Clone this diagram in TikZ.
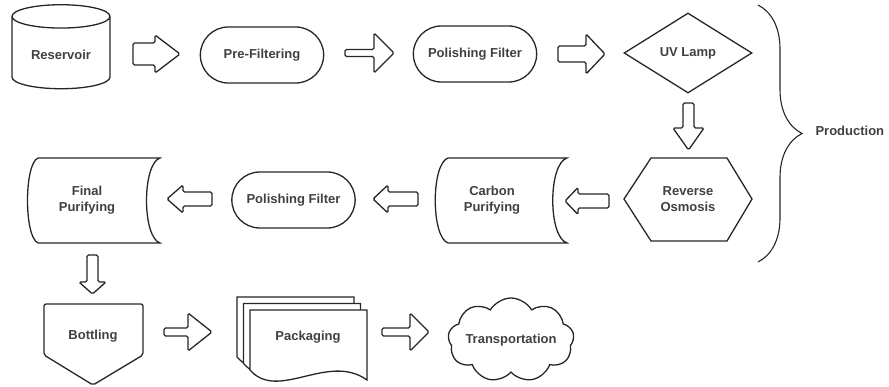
\documentclass[tikz,border=0pt]{standalone}
\usepackage{fontspec}
\setmainfont{Liberation Sans}
\usepackage{tikz}
\usetikzlibrary{shapes.geometric, shapes.misc, shapes.symbols, positioning, calc, decorations.pathreplacing}
\tikzset{
    every node/.style={font=\fontsize{13}{15.5}\selectfont\bfseries, text=black!75}, % label font
    outline/.style={draw=black!85, line width=1.3pt}, % stroke used for every shape
    tank/.style={cylinder, shape border rotate=90, aspect=0.35, outline, minimum width=98pt, minimum height=84pt},
    pill/.style={rounded rectangle, outline, minimum width=130pt, minimum height=56pt}, % filter boxes
    decision/.style={diamond, outline, aspect=1.64, inner sep=0pt, minimum width=128pt, minimum height=80pt},
    tag/.style={align=center, inner sep=0pt}, % text only, outline is drawn round it afterwards
    puffs/.style={cloud, outline, cloud puffs=9, cloud puff arc=120, inner sep=0pt, minimum width=126pt, minimum height=84pt},
    pics/blockarrow/.style n args={4}{code={ % length, shaft, head, head length
        \draw[outline, rounded corners=1.5pt] (-#1/2,-#2/2) -- (#1/2-#4,-#2/2) -- (#1/2-#4,-#3/2) -- (#1/2,0) -- (#1/2-#4,#3/2) -- (#1/2-#4,#2/2) -- (-#1/2,#2/2) -- cycle;
    }},
    }

\begin{document}
\begin{tikzpicture}[x=1pt, y=-1pt]
    \useasboundingbox (0,0) rectangle (889,387);

    % first row
    \node[tank] (res) at (61,55) {Reservoir};
    \node[pill] (pre) at (262,55) {Pre-Filtering};
    \node[pill] (pol1) at (475,54) {Polishing Filter};
    \node[decision] (uv) at (688,53) {UV Lamp};

    % second row, right to left
    \node[tag] (ro) at (688,199) {Reverse\\Osmosis};
    \draw[outline] ($(ro)+(-64,0)$) -- ($(ro)+(-37,-41)$) -- ($(ro)+(39,-41)$) -- ($(ro)+(64,0)$) -- ($(ro)+(39,42)$) -- ($(ro)+(-37,42)$) -- cycle;
    \node[tag] (carb) at (492,200) {Carbon\\Purifying};
    \draw[outline] ($(carb)+(-44,43)$) .. controls ($(carb)+(-61,37)$) and ($(carb)+(-61,-36)$) .. ($(carb)+(-44,-42)$) -- ($(carb)+(75,-42)$) .. controls ($(carb)+(56,-36)$) and ($(carb)+(56,37)$) .. ($(carb)+(75,43)$) -- cycle;
    \node[pill] (pol2) at (293.5,200) {Polishing Filter};
    \node[tag] (fin) at (87,200) {Final\\Purifying};
    \draw[outline] ($(fin)+(-49,43)$) .. controls ($(fin)+(-63,37)$) and ($(fin)+(-63,-36)$) .. ($(fin)+(-49,-42)$) -- ($(fin)+(73,-42)$) .. controls ($(fin)+(55,-36)$) and ($(fin)+(55,37)$) .. ($(fin)+(73,43)$) -- cycle;

    % third row
    \node (bot) at (93,336) {Bottling};
    \draw[outline, rounded corners=2pt] ($(bot)+(-49,-32)$) -- ($(bot)+(50,-32)$) -- ($(bot)+(50,19)$) -- ($(bot)+(0,49)$) -- ($(bot)+(-49,19)$) -- cycle;
    \coordinate (packc) at (308,337);
    \foreach \o in {13,6.5,0}
        \draw[outline, fill=white] ($(packc)+(-58-\o,-27-\o)$) -- ($(packc)+(59-\o,-27-\o)$) -- ($(packc)+(59-\o,43-\o)$) .. controls ($(packc)+(20-\o,15-\o)$) and ($(packc)+(-30-\o,65-\o)$) .. ($(packc)+(-58-\o,33-\o)$) -- cycle;
    \node (pack) at (packc) {Packaging};
    \node[puffs, label=center:Transportation] (trans) at (511,340) {};

    % block arrows between the steps
    \pic (a1) at (156.5,54) {blockarrow={47}{22}{38}{25}};
    \pic (a2) at (369.5,53) {blockarrow={49}{7}{40}{20}};
    \pic (a3) at (581.5,54) {blockarrow={47}{16}{40}{19}};
    \pic[rotate=-90] (a4) at (688.5,126.5) {blockarrow={47}{11}{31}{22}};
    \pic[rotate=180] (a5) at (587,201) {blockarrow={44}{14}{27}{13}};
    \pic[rotate=180] (a6) at (395.5,199) {blockarrow={45}{14}{28}{15}};
    \pic[rotate=180] (a7) at (189.5,199) {blockarrow={45}{14}{28}{16}};
    \pic[rotate=-90] (a8) at (92.5,274.5) {blockarrow={39}{11}{27}{12}};
    \pic (a9) at (188,332) {blockarrow={48}{8}{38}{24}};
    \pic (a10) at (405.5,332) {blockarrow={47}{8}{38}{19}};

    % production brace
    \coordinate (btop) at (758,5);
    \coordinate (bbot) at (758,262);
    \draw[outline, line width=1.1pt, decorate, decoration={brace, amplitude=44pt}] (btop) -- (bbot);
    \node[anchor=west] (prod) at (812,131) {Production};
\end{tikzpicture}
\end{document}
